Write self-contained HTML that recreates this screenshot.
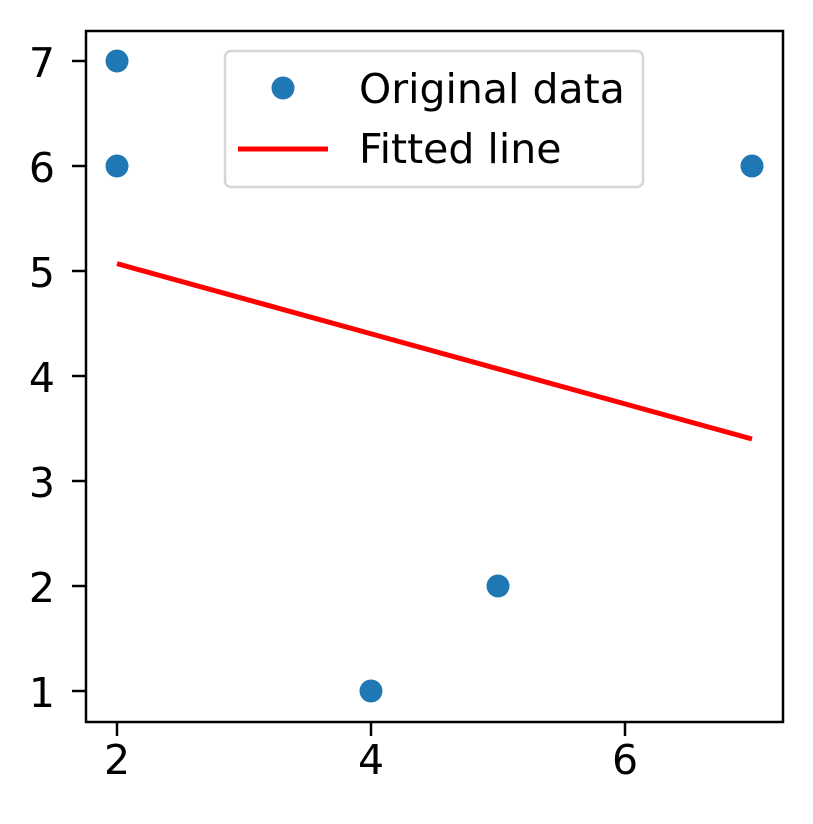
<!DOCTYPE html>
<html><head><meta charset="utf-8"><style>
html,body{margin:0;padding:0;background:#fff;}
svg{display:block;font-family:"DejaVu Sans","Liberation Sans",sans-serif;}
</style></head><body>
<svg id="chart" width="813" height="824" viewBox="0 0 813 824" xmlns="http://www.w3.org/2000/svg">
<g id="plot"></g>
</svg>
<script>
const pointsX = [2, 2, 4, 5, 7];
const pointsY = [7, 6, 1, 2, 6];
const fitX = [2, 7];
const fitY = [5.07, 3.40];
const xTicks = [2, 4, 6];
const yTicks = [1, 2, 3, 4, 5, 6, 7];
const legendLabels = ["Original data", "Fitted line"];

const NS = "http://www.w3.org/2000/svg";
const L = 86, R = 783, T = 31, B = 722;
function sx(v){ return 117 + (v - 2) * 127; }
function sy(v){ return 691 - (v - 1) * 105; }
const g = document.getElementById('plot');
function mk(tag, attrs, parent){
  const e = document.createElementNS(NS, tag);
  for (const k in attrs) e.setAttribute(k, attrs[k]);
  (parent || g).appendChild(e);
  return e;
}

const ln = mk('line', {x1: sx(fitX[0]), y1: sy(fitY[0]), x2: sx(fitX[1]), y2: sy(fitY[1]), stroke: '#ff0000', 'stroke-width': 5});



for (let i = 0; i < pointsX.length; i++){
  const c = mk('circle', {cx: sx(pointsX[i]), cy: sy(pointsY[i]), r: 11.5, fill: '#1f77b4'});
  
  
}

const fr = mk('rect', {x: L, y: T, width: R - L, height: B - T, fill: 'none', stroke: '#000', 'stroke-width': 2.5});



for (const v of xTicks){
  const t = mk('line', {x1: sx(v), y1: B, x2: sx(v), y2: B + 14, stroke: '#000', 'stroke-width': 2.5});
  
  
  const tx = mk('text', {x: sx(v), y: B + 52, 'text-anchor': 'middle', 'font-size': 41, fill: '#000'});
  tx.textContent = v;
  
  
}
for (const v of yTicks){
  const t = mk('line', {x1: L - 14, y1: sy(v), x2: L, y2: sy(v), stroke: '#000', 'stroke-width': 2.5});
  
  
  const tx = mk('text', {x: L - 31, y: sy(v) + 16, 'text-anchor': 'end', 'font-size': 41, fill: '#000'});
  tx.textContent = v;
  
  
}

const lg = mk('g', {});


mk('rect', {x: 225, y: 51, width: 418, height: 136, rx: 6, fill: '#fff', 'fill-opacity': 0.8, stroke: '#d6d6d6', 'stroke-width': 2.5}, lg);
const lm = mk('circle', {cx: 283, cy: 88, r: 11.5, fill: '#1f77b4'}, lg);


const ll = mk('line', {x1: 238, y1: 149, x2: 328, y2: 149, stroke: '#ff0000', 'stroke-width': 5}, lg);


const ys = [103, 163];
for (let i = 0; i < legendLabels.length; i++){
  const t = mk('text', {x: 359, y: ys[i], 'font-size': 41, fill: '#000'}, lg);
  t.textContent = legendLabels[i];
  
  
}
</script>
</body></html>
